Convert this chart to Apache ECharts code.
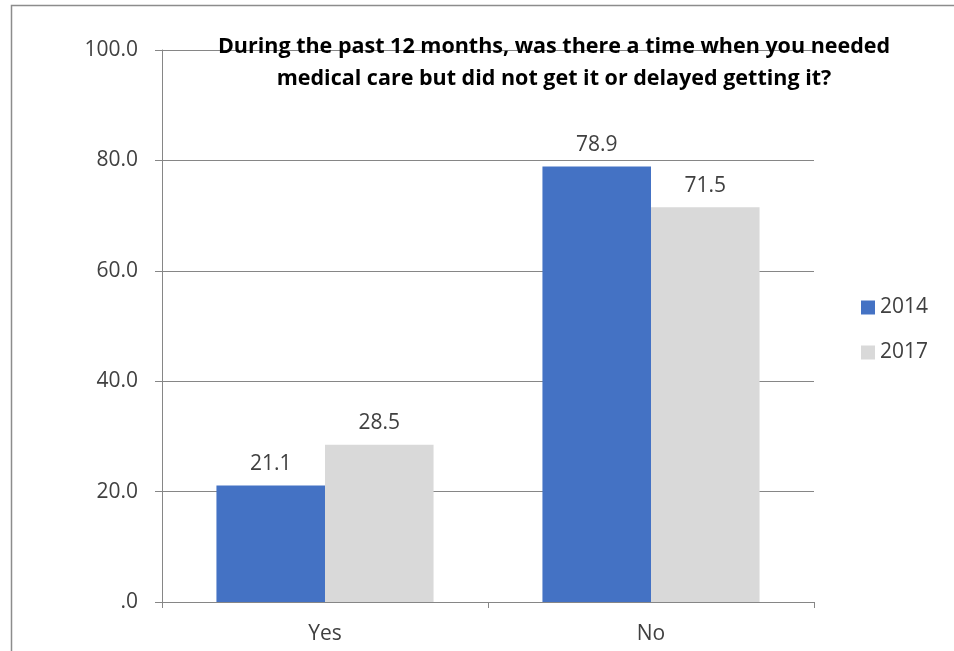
<!DOCTYPE html>
<html>
<head>
<meta charset="utf-8">
<script src="https://cdn.jsdelivr.net/npm/echarts@6/dist/echarts.min.js"></script>
<style>html,body{margin:0;padding:0;background:#fff;}#c{width:954px;height:651px;}</style>
</head>
<body>
<div id="c"></div>
<script>
const categories = ['Yes', 'No'];
const values2014 = [21.1, 78.9];
const values2017 = [28.5, 71.5];
const seriesNames = ['2014', '2017'];
const titleLines = ['During the past 12 months, was there a time when you needed', 'medical care but did not get it or delayed getting it?'];

const FONT = '"Open Sans", Lato, sans-serif';
const chart = echarts.init(document.getElementById('c'), null, {renderer: 'canvas'});
const labelStyle = {show: true, position: 'top', distance: 11, color: '#404040', fontSize: 21, fontFamily: FONT, formatter: p => p.value.toFixed(1)};
chart.setOption({
  animation: false,
  backgroundColor: '#fff',
  graphic: [{type: 'rect', left: 9, top: 3, shape: {width: 1100, height: 800}, style: {fill: 'none', stroke: '#8c8c8c', lineWidth: 1.5}, silent: true, z: -1}],
  title: {
    text: titleLines.join('\n'), left: 549, top: 26, textAlign: 'center',
    textStyle: {fontFamily: FONT, fontWeight: 'bold', fontSize: 21.5, color: '#000', lineHeight: 32}
  },
  legend: {
    orient: 'vertical', left: 856, top: 292, itemWidth: 14, itemHeight: 14, itemGap: 24,
    icon: 'rect', textStyle: {fontFamily: FONT, fontSize: 21, color: '#404040'},
    data: seriesNames
  },
  grid: {left: 162, right: 140, top: 50, bottom: 49, containLabel: false},
  xAxis: {
    type: 'category', data: categories,
    axisLine: {lineStyle: {color: '#868686', width: 1}},
    axisTick: {show: true, length: 6, lineStyle: {color: '#868686'}},
    axisLabel: {margin: 22, color: '#404040', fontSize: 21, fontFamily: FONT}
  },
  yAxis: {
    type: 'value', min: 0, max: 100, interval: 20,
    axisLine: {show: true, lineStyle: {color: '#868686', width: 1}},
    axisTick: {show: true, length: 7, lineStyle: {color: '#868686'}},
    splitLine: {lineStyle: {color: '#868686', width: 1}},
    axisLabel: {margin: 24, color: '#404040', fontSize: 21, fontFamily: FONT, formatter: v => v === 0 ? '.0' : v.toFixed(1)}
  },
  series: [
    {name: seriesNames[0], type: 'bar', data: values2014, barGap: '0%', barCategoryGap: '33.4%', itemStyle: {color: '#4472c4'}, label: labelStyle},
    {name: seriesNames[1], type: 'bar', data: values2017, barGap: '0%', barCategoryGap: '33.4%', itemStyle: {color: '#d9d9d9'}, label: labelStyle}
  ]
});
</script>
</body>
</html>
